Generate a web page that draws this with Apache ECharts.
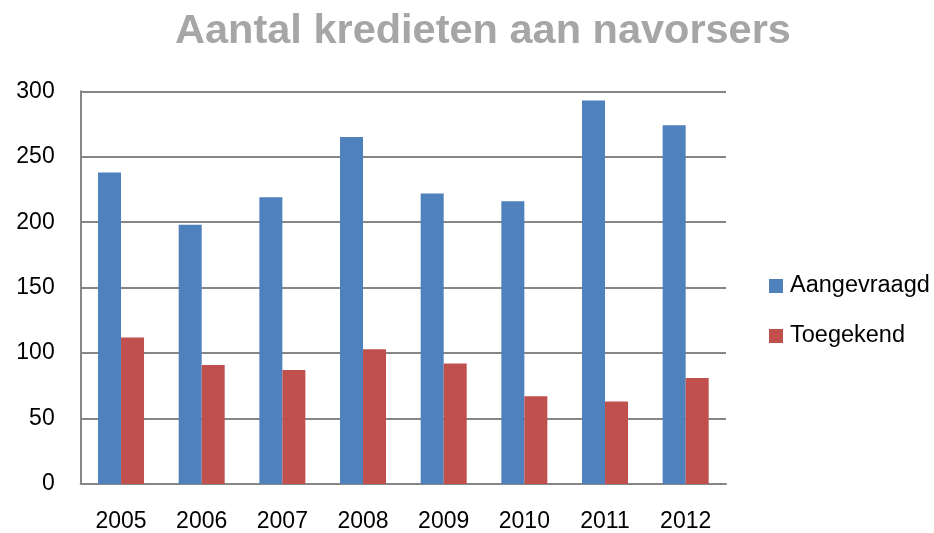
<!DOCTYPE html>
<html><head><meta charset="utf-8">
<script src="https://cdn.jsdelivr.net/npm/echarts@6/dist/echarts.min.js"></script>
<style>html,body{margin:0;padding:0;background:#fff}#c{width:934px;height:533px}</style>
</head><body><div id="c"></div>
<script>
const categories = ['2005','2006','2007','2008','2009','2010','2011','2012'];
const aangevraagd = [238, 198, 219, 265, 222, 216, 293, 274];
const toegekend = [112, 91, 87, 103, 92, 67, 63, 81];
const yTicks = [0, 50, 100, 150, 200, 250, 300];

const FONT = 'Liberation Sans';
const chart = echarts.init(document.getElementById('c'), null, {renderer:'canvas'});
chart.setOption({
  animation: false,
  title: {
    text: 'Aantal kredieten aan navorsers',
    left: 478, top: 6, textAlign: 'center',
    textStyle: {fontFamily: FONT, fontSize: 41.5, fontWeight: 'bold', color: '#A6A6A6'}
  },
  legend: {
    orient: 'vertical', left: 769, top: 274, itemGap: 26, padding: 0,
    itemWidth: 14, itemHeight: 14, icon: 'rect',
    textStyle: {fontFamily: FONT, fontSize: 23.5, color: '#000', padding: [0,0,0,2]},
    data: ['Aangevraagd', 'Toegekend']
  },
  grid: {left: 80.7, right: 208, top: 91.3, bottom: 45.3, containLabel: false},
  xAxis: {
    type: 'category', data: categories,
    axisLine: {lineStyle: {color: '#868686', width: 2}},
    axisTick: {show: false},
    axisLabel: {fontFamily: FONT, fontSize: 23, color: '#000', margin: 26}
  },
  yAxis: {
    type: 'value', min: 0, max: 300, interval: 50,
    axisLine: {show: true, lineStyle: {color: '#868686', width: 2}},
    axisTick: {show: false},
    splitLine: {lineStyle: {color: '#868686', width: 2}},
    axisLabel: {fontFamily: FONT, fontSize: 23, color: '#000', margin: 26,
      formatter: v => yTicks.includes(v) ? String(v) : ''}
  },
  series: [
    {name: 'Aangevraagd', type: 'bar', data: aangevraagd, barWidth: 23, barGap: '0%',
     itemStyle: {color: '#4F81BD'}},
    {name: 'Toegekend', type: 'bar', data: toegekend, barWidth: 23,
     itemStyle: {color: '#C0504D'}}
  ]
});
</script></body></html>
